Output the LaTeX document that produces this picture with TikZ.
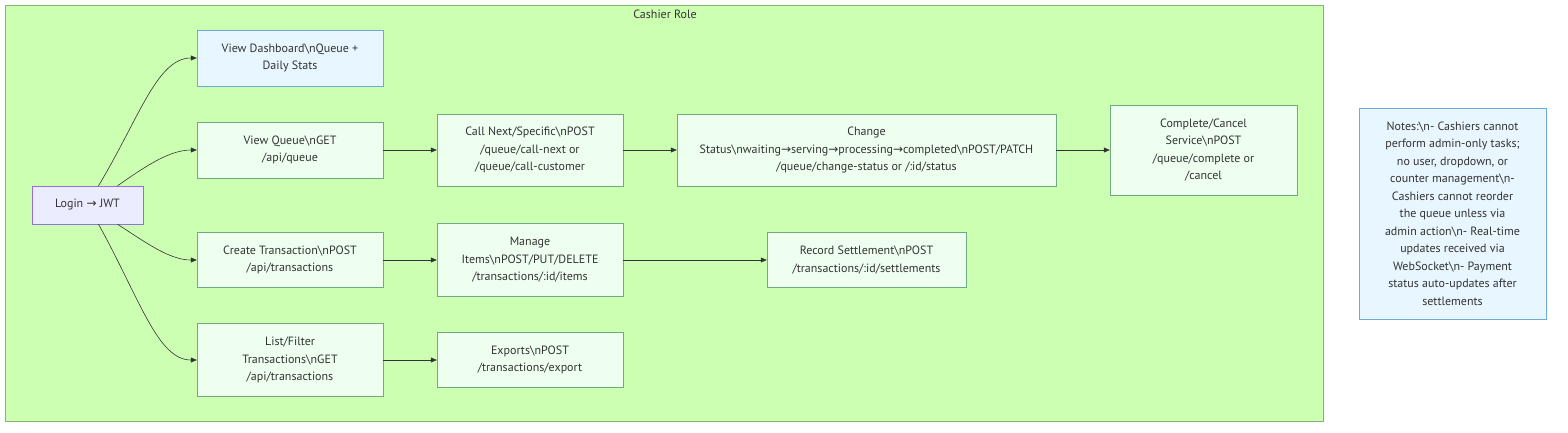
\documentclass[tikz,border=0pt]{standalone}
\usepackage{fontspec}
\setmainfont{PT Sans}
\newfontfamily\arrowfont{DejaVu Sans}
\usetikzlibrary{arrows.meta}
\definecolor{clusterfill}{RGB}{204,255,178}
\definecolor{clusterline}{RGB}{130,184,110}
\definecolor{stepfill}{RGB}{238,255,240}
\definecolor{stepline}{RGB}{110,170,130}
\definecolor{infofill}{RGB}{232,246,255}
\definecolor{infoline}{RGB}{111,168,220}
\definecolor{loginfill}{RGB}{236,236,255}
\definecolor{loginline}{RGB}{147,112,219}
\definecolor{inkgray}{RGB}{51,51,51}
\newcommand{\bsn}{\textbackslash n}
\newcommand{\rarr}{{\arrowfont →}}
\begin{document}
\begin{tikzpicture}[x=1pt,y=-1pt,
    every node/.style={font=\fontsize{12}{17.5}\selectfont, text=inkgray, inner sep=0pt},
    stepbox/.style={draw=stepline, fill=stepfill, align=center, minimum width=186, minimum height=56},
    infobox/.style={stepbox, draw=infoline, fill=infofill},
    arr/.style={-{Triangle[length=6pt,width=5pt]}, draw=inkgray, line width=0.6pt}]
    \useasboundingbox (0,0) rectangle (1568,432);
    \draw[clusterline, fill=clusterfill] (5,5) rectangle (1323,421);
    \node (title) at (665,14) {Cashier Role};
    \node[stepbox, draw=loginline, fill=loginfill, minimum width=111, minimum height=38] (login) at (87.5,205) {Login \rarr{} JWT};
    \node[infobox] (dash) at (290,58) {View Dashboard\bsn Queue +\\Daily Stats};
    \node[stepbox] (queue) at (290,150) {View Queue\bsn GET\\/api/queue};
    \node[stepbox, minimum height=72] (callnext) at (530,150) {Call Next/Specific\bsn POST\\/queue/call-next or\\/queue/call-customer};
    \node[stepbox, minimum width=379, minimum height=72] (status) at (866.5,150) {Change\\Status\bsn waiting\rarr serving\rarr processing\rarr completed\bsn POST/PATCH\\/queue/change-status or /:id/status};
    \node[stepbox, minimum width=187, minimum height=90] (finish) at (1203.5,150) {Complete/Cancel\\Service\bsn POST\\/queue/complete or\\/cancel};
    \node[stepbox, minimum height=55] (create) at (290,260) {Create Transaction\bsn POST\\/api/transactions};
    \node[stepbox, minimum height=73] (items) at (530,260) {Manage\\Items\bsn POST/PUT/DELETE\\/transactions/:id/items};
    \node[stepbox, minimum width=199, minimum height=55] (settle) at (866.5,260) {Record Settlement\bsn POST\\/transactions/:id/settlements};
    \node[stepbox, minimum height=73] (list) at (290,360) {List/Filter\\Transactions\bsn GET\\/api/transactions};
    \node[stepbox, minimum height=55] (export) at (530,360) {Exports\bsn POST\\/transactions/export};
    \node[infobox, minimum width=187, minimum height=211] (notes) at (1452.5,213.5) {Notes:\bsn- Cashiers cannot\\perform admin-only tasks;\\no user, dropdown, or\\counter management\bsn-\\Cashiers cannot reorder\\the queue unless via\\admin action\bsn- Real-time\\updates received via\\WebSocket\bsn- Payment\\status auto-updates after\\settlements};
    \draw[arr] ([xshift=11pt]login.north) to[out=59,in=180,out looseness=1.26,in looseness=0.63] (dash.west);
    \draw[arr] ([xshift=30pt]login.north) to[out=35,in=180,out looseness=1,in looseness=0.8] (queue.west);
    \draw[arr] ([xshift=30pt]login.south) to[out=-33,in=180,out looseness=1,in looseness=0.8] (create.west);
    \draw[arr] ([xshift=11pt]login.south) to[out=-61,in=180,out looseness=1.3,in looseness=0.6] (list.west);
    \draw[arr] (queue) -- (callnext);
    \draw[arr] (callnext) -- (status);
    \draw[arr] (status) -- (finish);
    \draw[arr] (create) -- (items);
    \draw[arr] (items) -- (settle);
    \draw[arr] (list) -- (export);
\end{tikzpicture}
\end{document}
